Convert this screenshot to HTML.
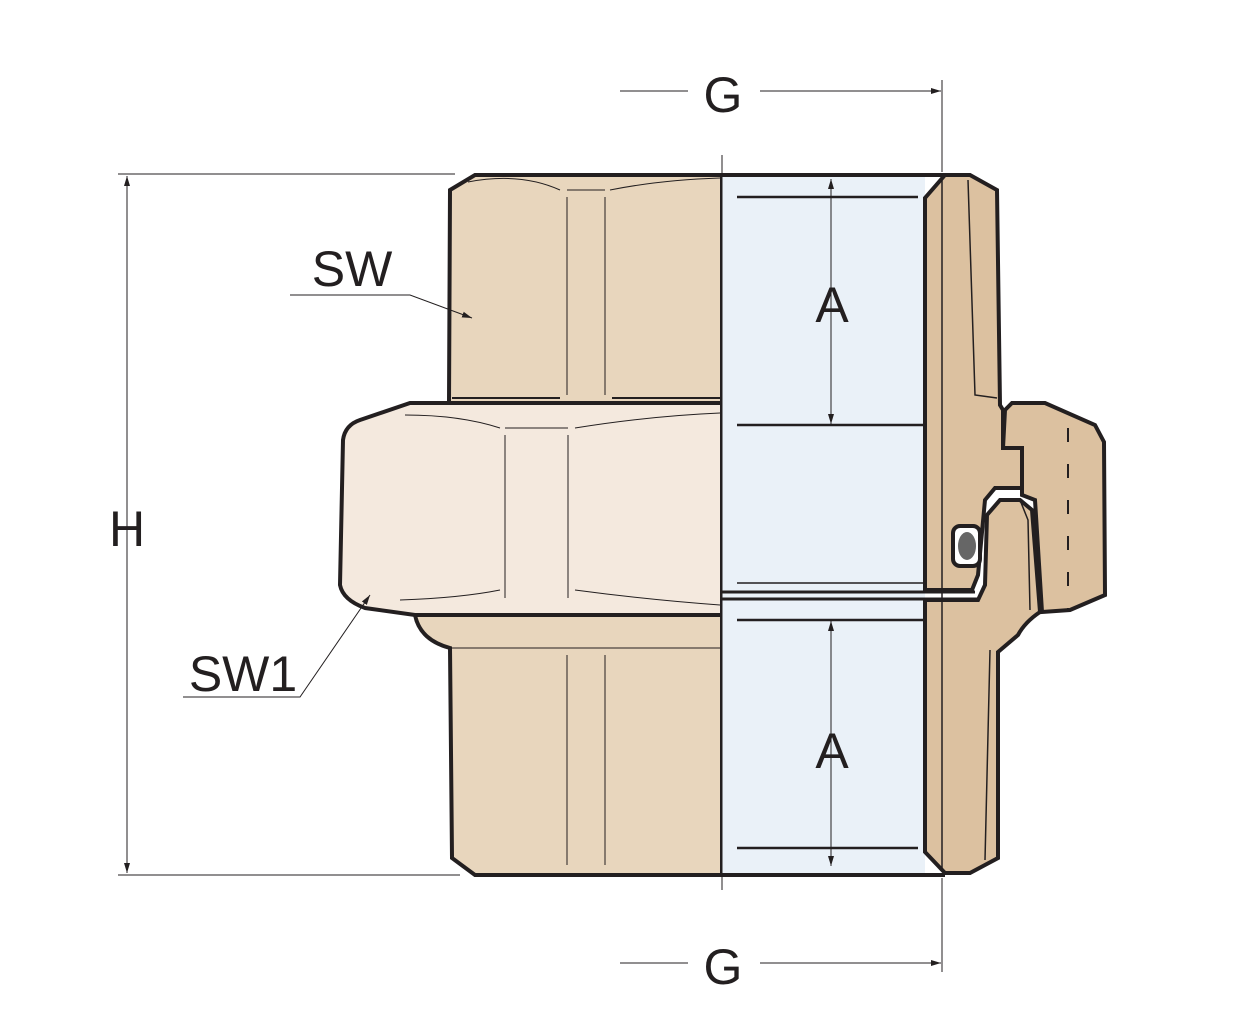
<!DOCTYPE html>
<html><head><meta charset="utf-8"><style>html,body{margin:0;padding:0;background:#fff}svg{display:block}</style></head>
<body>
<svg width="1260" height="1026" viewBox="0 0 1260 1026" xmlns="http://www.w3.org/2000/svg" font-family="Liberation Sans, sans-serif">
<defs><marker id="ar" viewBox="0 0 10 10" refX="10" refY="5" markerWidth="10" markerHeight="10" orient="auto-start-reverse"><path d="M0,2 L10,5 L0,8 z" fill="#231f20"/></marker></defs>
<g stroke="#231f20" fill="none">
<path d="M450,190 L475,175 L722,175 L722,403 L449,403 Z" fill="#e8d6bd" stroke-width="4"/>
<path d="M468,182 Q520,172 560,190 M610,190 Q660,180 720,178 M567,190 L605,190" stroke-width="1"/>
<path d="M567,197 L567,395 M605,197 L605,395" stroke-width="1"/>
<path d="M452,398 L560,398 M612,398 L722,398" stroke-width="2"/>
<path d="M415,615 L722,615 L722,875 L475,875 L452,858 L450,648 Q420,640 415,615 Z" fill="#e8d6bd" stroke-width="4"/>
<path d="M450,648 L722,648 M567,655 L567,865 M605,655 L605,865" stroke-width="1"/>
<path d="M343,440 Q345,425 360,420 L410,403 L722,403 L722,615 L415,615 L365,608 Q343,600 340,585 Z" fill="#f4e9de" stroke-width="4"/>
<path d="M405,415 Q460,415 500,428 M575,428 Q650,416 720,413 M505,428 L568,428 M505,435 L505,598 M568,435 L568,598 M400,600 Q460,598 500,590 M575,590 Q650,600 720,605" stroke-width="1"/>
<rect x="722" y="175" width="203" height="700" fill="#eaf1f8" stroke="none"/>
<path d="M722,175 L945,175 M722,875 L945,875" stroke-width="4"/>
<path d="M737,197 L918,197 M737,425 L940,425 M737,620 L940,620 M737,848 L918,848" stroke-width="2.5"/>
<path d="M737,583 L925,583" stroke-width="1.5"/>
<path d="M722,592 L975,592 M722,599 L980,599" stroke-width="3"/>
<!-- right nut -->
<path d="M1005,410 L1012,403 L1045,403 L1095,425 L1104,442 L1105,595 L1070,610 L1042,612 L1035,500 L1022,495 L1022,448 L1003,448 Z" fill="#dcc1a0" stroke-width="4"/>
<path d="M1068,428 L1068,610" stroke-width="2" stroke-dasharray="14,22"/>
<!-- right body upper -->
<path d="M945,175 L970,175 L997,190 L1000,405 L1003,410 L1003,448 L1022,448 L1022,488 L995,488 L985,500 L978,575 L972,590 L925,590 L925,198 Z" fill="#dcc1a0" stroke-width="4"/>
<!-- lower tailpiece -->
<path d="M925,600 L978,600 L985,585 L987,515 L1000,500 L1020,500 L1032,510 L1040,612 Q1025,622 1018,635 L998,652 L998,858 L970,873 L945,873 L925,852 Z" fill="#dcc1a0" stroke-width="4"/>
<path d="M942,180 L942,870 M968,180 L975,395 L997,398 M990,650 L985,860 M1020,500 L1028,520 L1030,610" stroke-width="1.5"/>
<rect x="953" y="526" width="27" height="40" rx="7" fill="#fff" stroke-width="4"/>
<ellipse cx="967" cy="546" rx="9" ry="14" fill="#666" stroke="none"/>
<path d="M722,155 L722,890" stroke-width="1"/>
<path d="M118,174 L455,174 M118,875 L460,875" stroke-width="1"/>
<path d="M127,176 L127,873" stroke-width="1" marker-start="url(#ar)" marker-end="url(#ar)"/>
<path d="M942,80 L942,172 M942,878 L942,972" stroke-width="1"/>
<path d="M620,91 L688,91 M620,963 L688,963" stroke-width="1"/>
<path d="M760,91 L941,91" stroke-width="1" marker-end="url(#ar)"/>
<path d="M760,963 L941,963" stroke-width="1" marker-end="url(#ar)"/>
<path d="M831,179 L831,424" stroke-width="1" marker-start="url(#ar)" marker-end="url(#ar)"/>
<path d="M831,621 L831,866" stroke-width="1" marker-start="url(#ar)" marker-end="url(#ar)"/>
<path d="M290,295 L410,295 L472,318" stroke-width="1" marker-end="url(#ar)"/>
<path d="M183,697 L300,697 L370,595" stroke-width="1" marker-end="url(#ar)"/>
</g>
<g fill="#231f20" font-size="50" text-anchor="middle">
<text x="723" y="112">G</text>
<text x="723" y="984">G</text>
<text x="127" y="546">H</text>
<text x="832" y="322">A</text>
<text x="832" y="768">A</text>
<text x="352" y="286">SW</text>
<text x="243" y="691">SW1</text>
</g>
</svg>
</body></html>
